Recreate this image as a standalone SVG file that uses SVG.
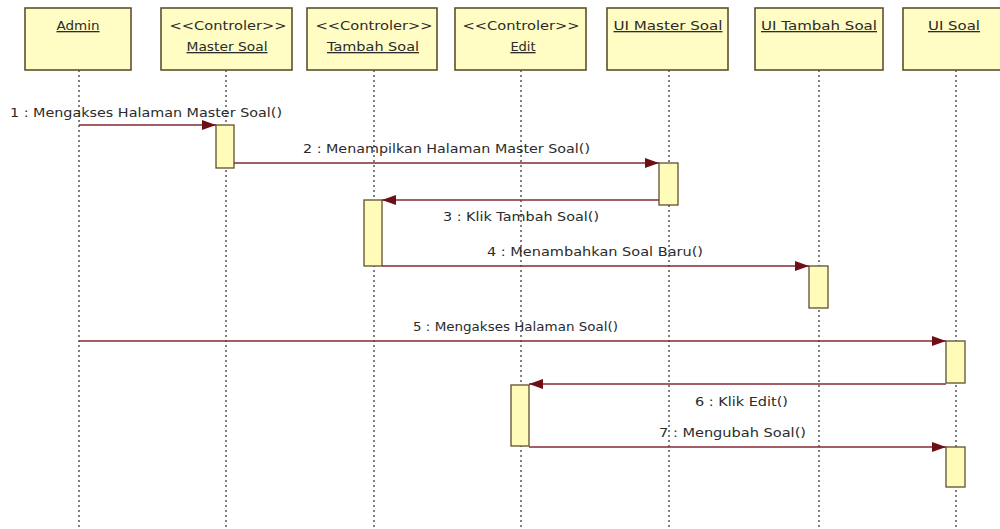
<svg xmlns="http://www.w3.org/2000/svg" width="1000" height="529" viewBox="0 0 1000 529">
  <style>
    .head { fill: #fffcc4; stroke: #5e4f2e; stroke-width: 1.6; }
    .act { fill: #fffbb8; stroke: #5e4f2e; stroke-width: 1.3; }
    .life { stroke: #4a4a4a; stroke-width: 1.4; stroke-dasharray: 2 3; fill: none; }
    .msg { stroke: #862834; stroke-width: 1.3; fill: none; marker-end: url(#arrow); }
    .t { font-family: "DejaVu Sans", "Liberation Sans", sans-serif; font-size: 13px; fill: #2b2b2b; }
    .h { font-family: "DejaVu Sans", "Liberation Sans", sans-serif; font-size: 13px; fill: #2b2b2b; text-anchor: middle; }
    .u { text-decoration: underline; }
  </style>
  <defs>
    <marker id="arrow" viewBox="0 0 14 10" refX="14" refY="5" markerWidth="14" markerHeight="10" markerUnits="userSpaceOnUse" orient="auto">
      <path d="M0,0 L14,5 L0,10 Z" fill="#6e0f16"/>
    </marker>
  </defs>
  <rect width="1000" height="529" fill="#ffffff"/>

  <!-- lifelines -->
  <g id="lifelines">
    <line class="life" x1="79" y1="70" x2="79" y2="529"/>
    <line class="life" x1="226" y1="70" x2="226" y2="529"/>
    <line class="life" x1="374" y1="70" x2="374" y2="529"/>
    <line class="life" x1="521" y1="70" x2="521" y2="529"/>
    <line class="life" x1="669" y1="70" x2="669" y2="529"/>
    <line class="life" x1="819" y1="70" x2="819" y2="529"/>
    <line class="life" x1="956" y1="70" x2="956" y2="529"/>
  </g>

  <!-- participants -->
  <g id="admin">
    <rect class="head" x="25" y="8" width="106" height="62"/>
    <text class="h u" x="78" y="30" textLength="43" lengthAdjust="spacingAndGlyphs">Admin</text>
  </g>
  <g id="ctl-master-soal">
    <rect class="head" x="161" y="8" width="131" height="62"/>
    <text class="h" x="228" y="30" textLength="117" lengthAdjust="spacingAndGlyphs">&lt;&lt;Controler&gt;&gt;</text>
    <text class="h u" x="227" y="51" textLength="81" lengthAdjust="spacingAndGlyphs">Master Soal</text>
  </g>
  <g id="ctl-tambah-soal">
    <rect class="head" x="307" y="8" width="130" height="62"/>
    <text class="h" x="374" y="30" textLength="117" lengthAdjust="spacingAndGlyphs">&lt;&lt;Controler&gt;&gt;</text>
    <text class="h u" x="373" y="51" textLength="92" lengthAdjust="spacingAndGlyphs">Tambah Soal</text>
  </g>
  <g id="ctl-edit">
    <rect class="head" x="455" y="8" width="131" height="62"/>
    <text class="h" x="521" y="30" textLength="117" lengthAdjust="spacingAndGlyphs">&lt;&lt;Controler&gt;&gt;</text>
    <text class="h u" x="523" y="51">Edit</text>
  </g>
  <g id="ui-master-soal">
    <rect class="head" x="607" y="8" width="121" height="62"/>
    <text class="h u" x="668" y="30" textLength="109" lengthAdjust="spacingAndGlyphs">UI Master Soal</text>
  </g>
  <g id="ui-tambah-soal">
    <rect class="head" x="755" y="8" width="128" height="62"/>
    <text class="h u" x="819" y="30" textLength="116" lengthAdjust="spacingAndGlyphs">UI Tambah Soal</text>
  </g>
  <g id="ui-soal">
    <rect class="head" x="903" y="8" width="110" height="62"/>
    <text class="h u" x="954" y="30" textLength="52" lengthAdjust="spacingAndGlyphs">UI Soal</text>
  </g>

  <!-- activation bars -->
  <g id="activations">
    <rect class="act" x="216" y="125" width="18" height="43"/>
    <rect class="act" x="659" y="163" width="19" height="42"/>
    <rect class="act" x="364" y="200" width="18" height="66"/>
    <rect class="act" x="809" y="266" width="19" height="42"/>
    <rect class="act" x="946" y="341" width="19" height="42"/>
    <rect class="act" x="511" y="385" width="18" height="61"/>
    <rect class="act" x="946" y="447" width="19" height="40"/>
  </g>

  <!-- messages -->
  <g id="connectors">
    <line class="msg" x1="79" y1="125" x2="216" y2="125"/>
    <line class="msg" x1="234" y1="163" x2="659" y2="163"/>
    <line class="msg" x1="659" y1="200" x2="382" y2="200"/>
    <line class="msg" x1="382" y1="266" x2="809" y2="266"/>
    <line class="msg" x1="79" y1="341" x2="946" y2="341"/>
    <line class="msg" x1="946" y1="384" x2="529" y2="384"/>
    <line class="msg" x1="529" y1="447" x2="946" y2="447"/>
  </g>

  <!-- message labels -->
  <g id="labels">
    <text class="t" x="10" y="117" textLength="272" lengthAdjust="spacingAndGlyphs">1 : Mengakses Halaman Master Soal()</text>
    <text class="t" x="303" y="153" textLength="287" lengthAdjust="spacingAndGlyphs">2 : Menampilkan Halaman Master Soal()</text>
    <text class="t" x="443" y="221" textLength="156" lengthAdjust="spacingAndGlyphs">3 : Klik Tambah Soal()</text>
    <text class="t" x="487" y="256" textLength="216" lengthAdjust="spacingAndGlyphs">4 : Menambahkan Soal Baru()</text>
    <text class="t" x="413" y="331" textLength="205" lengthAdjust="spacingAndGlyphs">5 : Mengakses Halaman Soal()</text>
    <text class="t" x="695" y="406" textLength="93" lengthAdjust="spacingAndGlyphs">6 : Klik Edit()</text>
    <text class="t" x="659" y="437" textLength="147" lengthAdjust="spacingAndGlyphs">7 : Mengubah Soal()</text>
  </g>
</svg>
